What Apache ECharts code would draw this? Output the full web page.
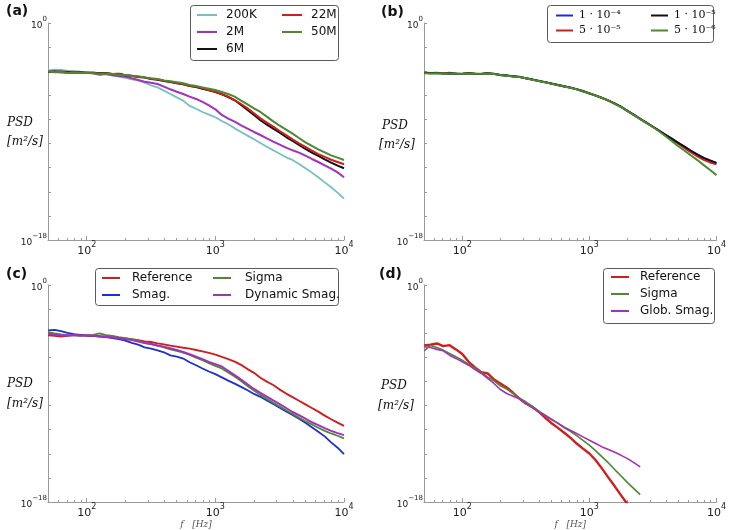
<!DOCTYPE html>
<html><head><meta charset="utf-8">
<script src="https://cdn.jsdelivr.net/npm/echarts@6/dist/echarts.min.js"></script>
<style>html,body{margin:0;padding:0;background:#fff}#c{width:729px;height:530px}</style>
</head><body><div id="c"></div>
<script>
// ---- frequency grids: log10(f / Hz) ----
const logF = [1.70,1.75,1.80,1.85,1.90,1.95,2.00,2.05,2.10,2.15,2.20,2.25,2.30,2.35,2.40,2.45,2.50,2.55,2.60,2.65,2.70,2.75,2.80,2.85,2.90,2.95,3.00,3.05,3.10,3.15,3.20,3.25,3.30,3.35,3.40,3.45,3.50,3.55,3.60,3.65,3.70,3.75,3.80,3.85,3.90,3.95,4.00];
const logF_d = [1.70,1.75,1.80,1.85,1.90,1.95,2.00,2.05,2.10,2.15,2.20,2.25,2.30,2.35,2.40,2.45,2.50,2.55,2.60,2.65,2.70,2.75,2.80,2.85,2.90,2.95,3.00,3.05,3.10,3.15,3.20,3.25,3.30,3.35,3.40];

// ---- PSD values, as log10(PSD) ----
// (a) mesh resolution
const a_200K = [-3.93,-3.87,-3.90,-3.95,-3.98,-4.04,-4.06,-4.09,-4.15,-4.23,-4.34,-4.45,-4.56,-4.67,-4.76,-4.95,-5.17,-5.34,-5.61,-5.89,-6.17,-6.44,-6.88,-7.11,-7.38,-7.60,-7.82,-8.13,-8.40,-8.74,-9.04,-9.34,-9.65,-9.95,-10.26,-10.56,-10.84,-11.14,-11.36,-11.69,-12.05,-12.41,-12.80,-13.22,-13.63,-14.07,-14.57];
const a_2M = [-4.04,-3.98,-4.01,-4.06,-4.06,-4.12,-4.12,-4.17,-4.29,-4.23,-4.34,-4.40,-4.45,-4.59,-4.73,-4.87,-4.95,-5.06,-5.28,-5.50,-5.70,-5.89,-6.11,-6.30,-6.55,-6.83,-7.16,-7.63,-7.93,-8.18,-8.49,-8.76,-9.04,-9.29,-9.57,-9.84,-10.09,-10.34,-10.56,-10.75,-11.00,-11.28,-11.53,-11.81,-12.08,-12.39,-12.80];
const a_6M = [-4.06,-4.04,-4.09,-4.06,-4.12,-4.09,-4.15,-4.12,-4.17,-4.15,-4.23,-4.20,-4.34,-4.37,-4.48,-4.53,-4.64,-4.70,-4.81,-4.89,-5.00,-5.09,-5.23,-5.31,-5.45,-5.58,-5.72,-5.92,-6.14,-6.41,-6.80,-7.22,-7.63,-8.07,-8.43,-8.76,-9.10,-9.46,-9.79,-10.12,-10.45,-10.75,-11.03,-11.31,-11.58,-11.83,-12.05];
const a_22M = [-4.04,-4.06,-4.04,-4.12,-4.09,-4.15,-4.12,-4.15,-4.20,-4.17,-4.26,-4.23,-4.34,-4.40,-4.45,-4.51,-4.62,-4.67,-4.78,-4.87,-4.98,-5.06,-5.20,-5.28,-5.42,-5.56,-5.70,-5.89,-6.11,-6.39,-6.72,-7.08,-7.49,-7.91,-8.27,-8.60,-8.96,-9.29,-9.65,-9.98,-10.28,-10.59,-10.87,-11.11,-11.34,-11.53,-11.72];
const a_50M = [-4.01,-4.09,-4.06,-4.15,-4.12,-4.12,-4.15,-4.17,-4.23,-4.20,-4.23,-4.29,-4.31,-4.40,-4.42,-4.51,-4.59,-4.64,-4.76,-4.84,-4.92,-5.00,-5.14,-5.23,-5.34,-5.45,-5.56,-5.72,-5.89,-6.11,-6.44,-6.75,-7.08,-7.38,-7.77,-8.16,-8.52,-8.85,-9.18,-9.54,-9.90,-10.20,-10.48,-10.73,-10.98,-11.17,-11.36];
// (b) time step
const b_1e4 = [-4.12,-4.16,-4.18,-4.16,-4.21,-4.19,-4.23,-4.18,-4.20,-4.24,-4.18,-4.20,-4.33,-4.34,-4.44,-4.45,-4.60,-4.67,-4.82,-4.89,-5.04,-5.12,-5.27,-5.34,-5.51,-5.64,-5.85,-6.00,-6.23,-6.41,-6.70,-6.94,-7.31,-7.60,-7.97,-8.26,-8.63,-8.93,-9.30,-9.59,-9.96,-10.25,-10.62,-10.89,-11.20,-11.42,-11.63];
const b_5e5 = [-4.10,-4.15,-4.12,-4.18,-4.13,-4.20,-4.22,-4.15,-4.20,-4.23,-4.16,-4.24,-4.30,-4.38,-4.41,-4.49,-4.57,-4.70,-4.79,-4.92,-5.01,-5.15,-5.24,-5.38,-5.48,-5.67,-5.82,-6.03,-6.20,-6.44,-6.67,-6.97,-7.28,-7.63,-7.94,-8.29,-8.60,-8.96,-9.29,-9.66,-10.02,-10.38,-10.74,-11.07,-11.35,-11.57,-11.73];
const b_1e5 = [-4.14,-4.17,-4.14,-4.20,-4.17,-4.22,-4.20,-4.17,-4.22,-4.20,-4.17,-4.22,-4.31,-4.36,-4.42,-4.47,-4.58,-4.69,-4.80,-4.91,-5.02,-5.14,-5.25,-5.36,-5.49,-5.66,-5.83,-6.02,-6.21,-6.43,-6.68,-6.96,-7.29,-7.62,-7.95,-8.28,-8.61,-8.95,-9.28,-9.61,-9.94,-10.27,-10.60,-10.91,-11.18,-11.40,-11.60];
const b_5e6 = [-4.16,-4.18,-4.16,-4.19,-4.19,-4.20,-4.21,-4.19,-4.21,-4.22,-4.19,-4.23,-4.32,-4.37,-4.43,-4.48,-4.59,-4.70,-4.81,-4.92,-5.03,-5.15,-5.26,-5.37,-5.50,-5.67,-5.84,-6.03,-6.22,-6.44,-6.70,-6.98,-7.31,-7.64,-7.97,-8.30,-8.63,-9.00,-9.39,-9.80,-10.22,-10.60,-10.99,-11.37,-11.79,-12.20,-12.62];
// (c) subgrid models
const c_ref = [-4.18,-4.21,-4.27,-4.21,-4.18,-4.16,-4.21,-4.24,-4.24,-4.29,-4.32,-4.38,-4.43,-4.49,-4.57,-4.68,-4.73,-4.84,-4.92,-5.03,-5.11,-5.20,-5.28,-5.39,-5.50,-5.63,-5.77,-5.96,-6.15,-6.35,-6.62,-6.97,-7.28,-7.69,-8.01,-8.29,-8.67,-9.00,-9.30,-9.60,-9.90,-10.20,-10.50,-10.83,-11.13,-11.41,-11.68];
const c_smag = [-3.77,-3.72,-3.83,-3.97,-4.08,-4.13,-4.18,-4.21,-4.27,-4.32,-4.40,-4.49,-4.62,-4.79,-4.95,-5.17,-5.28,-5.42,-5.58,-5.83,-5.94,-6.10,-6.40,-6.65,-6.92,-7.17,-7.39,-7.66,-7.93,-8.18,-8.45,-8.73,-9.03,-9.27,-9.57,-9.87,-10.17,-10.48,-10.78,-11.08,-11.43,-11.79,-12.17,-12.55,-13.05,-13.49,-14.03];
const c_sigma = [-3.91,-4.02,-4.10,-4.16,-4.18,-4.21,-4.18,-4.13,-4.02,-4.16,-4.21,-4.32,-4.40,-4.51,-4.62,-4.79,-4.90,-5.03,-5.17,-5.33,-5.47,-5.61,-5.80,-6.02,-6.24,-6.48,-6.70,-6.92,-7.25,-7.58,-7.96,-8.37,-8.75,-9.11,-9.44,-9.76,-10.07,-10.39,-10.69,-11.00,-11.30,-11.57,-11.84,-12.09,-12.31,-12.50,-12.72];
const c_dyn = [-4.05,-4.13,-4.16,-4.18,-4.13,-4.18,-4.16,-4.21,-4.27,-4.29,-4.35,-4.40,-4.49,-4.57,-4.68,-4.81,-4.90,-5.01,-5.11,-5.25,-5.39,-5.55,-5.74,-5.94,-6.15,-6.37,-6.56,-6.76,-7.11,-7.47,-7.85,-8.23,-8.62,-8.94,-9.25,-9.57,-9.87,-10.20,-10.53,-10.80,-11.08,-11.38,-11.62,-11.87,-12.09,-12.28,-12.45];
// (d) coarse mesh
const d_ref = [-5.01,-4.96,-4.85,-5.07,-4.99,-5.34,-5.73,-6.37,-6.84,-7.23,-7.34,-7.84,-8.17,-8.50,-8.94,-9.42,-9.83,-10.11,-10.50,-10.99,-11.44,-11.83,-12.24,-12.66,-13.15,-13.57,-13.98,-14.54,-15.23,-15.98,-16.70,-17.45,-18.19];
const d_sigma = [-5.46,-5.01,-5.18,-5.40,-5.68,-5.95,-6.23,-6.59,-6.90,-7.26,-7.64,-7.95,-8.36,-8.64,-9.00,-9.39,-9.69,-10.05,-10.44,-10.77,-11.11,-11.46,-11.83,-12.13,-12.49,-12.88,-13.29,-13.76,-14.26,-14.76,-15.31,-15.84,-16.39,-16.89,-17.39];
const d_glob = [-5.12,-5.18,-5.34,-5.46,-5.82,-6.09,-6.37,-6.65,-7.01,-7.34,-7.75,-8.17,-8.67,-9.00,-9.22,-9.44,-9.83,-10.16,-10.52,-10.83,-11.16,-11.44,-11.77,-12.05,-12.32,-12.60,-12.88,-13.15,-13.43,-13.65,-13.88,-14.13,-14.40,-14.73,-15.09];

// ---- axis ticks ----
const xTickExp = [2, 3, 4];
const yTickExp = [-18,-16,-14,-12,-10,-8,-6,-4,-2,0];
const yLabelExp = [-18, 0];
const X_MIN = Math.log10(50), X_MAX = 4;
const minorTicks = [];
[1,2,3].forEach(d => { for (let k = 2; k <= 9; k++) { const v = d + Math.log10(k); if (v > X_MIN + 1e-6 && v < X_MAX) minorTicks.push(v); } });

const COL = { cyan:'#74c1c2', purple:'#a630bd', black:'#111111', red:'#d21d1d', green:'#4b8a2f', blue:'#1e2fd0' };
const AXC = '#9a9a9a';

const grids = [
  {left:48, top:23, width:296, height:217},
  {left:424, top:23, width:294, height:217},
  {left:48, top:285, width:296, height:219},
  {left:424, top:285, width:294, height:217}
];

const supRichX = {
  b:{fontSize:11, color:'#222', fontFamily:'DejaVu Sans', lineHeight:16, verticalAlign:'bottom'},
  s:{fontSize:8, color:'#222', fontFamily:'DejaVu Sans', lineHeight:8, verticalAlign:'top'}
};
const supRichY = {
  b:{fontSize:9, color:'#222', fontFamily:'DejaVu Sans', lineHeight:14, verticalAlign:'bottom'},
  s:{fontSize:7, color:'#222', fontFamily:'DejaVu Sans', lineHeight:7, verticalAlign:'top'}
};
const fmtExp = v => '{b|10}{s|' + String(Math.round(v)).replace('-', '\u2212') + '}';

const xAxes = [], yAxes = [];
grids.forEach((g, gi) => {
  const showName = gi >= 2;
  xAxes.push({
    type:'value', gridIndex:gi, min:X_MIN, max:X_MAX, position:'bottom',
    axisLine:{show:true, onZero:false, lineStyle:{color:AXC, width:1}},
    axisTick:{show:true, inside:true, length:4, customValues:xTickExp, lineStyle:{color:AXC}},
    axisLabel:{show:true, customValues:xTickExp, formatter:fmtExp, margin:1, rich:supRichX},
    splitLine:{show:false},
    name: showName ? 'f   [Hz]' : '', nameLocation:'middle', nameGap:15,
    nameTextStyle:{fontFamily:'DejaVu Serif', fontStyle:'italic', fontSize:9, color:'#555'}
  });
  xAxes.push({
    type:'value', gridIndex:gi, min:X_MIN, max:X_MAX, position:'bottom',
    axisLine:{show:false, onZero:false},
    axisTick:{show:true, inside:true, length:2, customValues:minorTicks, lineStyle:{color:AXC}},
    axisLabel:{show:false, customValues:minorTicks},
    splitLine:{show:false}
  });
  yAxes.push({
    type:'value', gridIndex:gi, min:-18, max:0,
    axisLine:{show:true, onZero:false, lineStyle:{color:AXC, width:1}},
    axisTick:{show:true, inside:true, length:3, customValues:yTickExp, lineStyle:{color:AXC}},
    axisLabel:{show:true, customValues:yLabelExp, formatter:fmtExp, margin:1, rich:supRichY},
    splitLine:{show:false}
  });
});

function line(xs, ys, name, color, gi, width) {
  return {
    type:'line', name, xAxisIndex:gi*2, yAxisIndex:gi,
    data: ys.map((y, i) => [xs[i], y]),
    showSymbol:false, symbol:'none', color, itemStyle:{color},
    lineStyle:{color, width: width || 1.6}, animation:false, silent:true, clip:true
  };
}

const series = [
  line(logF, a_200K, '200K', COL.cyan, 0, 1.8),
  line(logF, a_2M, '2M', COL.purple, 0, 2.0),
  line(logF, a_6M, '6M', COL.black, 0, 2.0),
  line(logF, a_22M, '22M', COL.red, 0, 2.0),
  line(logF, a_50M, '50M', COL.green, 0, 2.0),
  line(logF, b_1e4, '1 \u00b7 10\u207b\u2074', COL.blue, 1, 1.9),
  line(logF, b_5e5, '5 \u00b7 10\u207b\u2075', COL.red, 1, 1.9),
  line(logF, b_1e5, '1 \u00b7 10\u207b\u2075', COL.black, 1, 1.9),
  line(logF, b_5e6, '5 \u00b7 10\u207b\u2076', COL.green, 1, 2.0),
  line(logF, c_ref, 'Reference', COL.red, 2, 1.9),
  line(logF, c_smag, 'Smag.', COL.blue, 2, 1.8),
  line(logF, c_sigma, 'Sigma', COL.green, 2, 1.8),
  line(logF, c_dyn, 'Dynamic Smag.', COL.purple, 2, 2.0),
  line(logF_d, d_ref, 'Reference', COL.red, 3, 2.4),
  line(logF_d, d_sigma, 'Sigma', COL.green, 3, 1.6),
  line(logF_d, d_glob, 'Glob. Smag.', COL.purple, 3, 1.6)
];

function legendCol(names, left, top, o) {
  return {
    data:names, left, top, orient:'vertical', selectedMode:false,
    icon:'rect', itemWidth:o.w, itemHeight:2, itemGap:o.gap, padding:0, z:10,
    textStyle:{fontFamily:o.font || 'DejaVu Sans', fontSize:o.fs, color:'#111', lineHeight:o.lh, padding:[0,0,0,o.tp]}
  };
}
const legends = [
  legendCol(['200K','2M','6M'], 197, 8, {w:20, gap:3, fs:12, lh:14, tp:4}),
  legendCol(['22M','50M'], 282, 8, {w:20, gap:3, fs:12, lh:14, tp:4}),
  legendCol(['1 \u00b7 10\u207b\u2074','5 \u00b7 10\u207b\u2075'], 556, 9, {w:17, gap:2, fs:11, lh:13, tp:1, font:'DejaVu Serif'}),
  legendCol(['1 \u00b7 10\u207b\u2075','5 \u00b7 10\u207b\u2076'], 651, 9, {w:17, gap:2, fs:11, lh:13, tp:1, font:'DejaVu Serif'}),
  legendCol(['Reference','Smag.'], 102, 271, {w:18, gap:3, fs:12, lh:14, tp:7}),
  legendCol(['Sigma','Dynamic Smag.'], 213, 271, {w:18, gap:3, fs:12, lh:14, tp:9}),
  legendCol(['Reference','Sigma','Glob. Smag.'], 611, 270, {w:18, gap:3, fs:12, lh:14, tp:6})
];

const box = (x, y, w, h) => ({type:'rect', x, y, z:5, shape:{x:0.5, y:0.5, width:w, height:h, r:3}, style:{fill:'#fff', stroke:'#5a5a5a', lineWidth:1}});
const txt = (x, y, text, font, align) => ({type:'text', x, y, z:6, style:{text, font, fill:'#111', align: align || 'center', verticalAlign:'middle'}});
const psdFont = 'italic 12px "DejaVu Serif"';
const graphic = [
  box(190, 5, 148, 55), box(547, 5, 166, 37), box(95, 268, 243, 37), box(603, 268, 111, 55),
  txt(6, 11, '(a)', 'bold 14px "DejaVu Sans"', 'left'),
  txt(381, 12, '(b)', 'bold 14px "DejaVu Sans"', 'left'),
  txt(6, 274, '(c)', 'bold 14px "DejaVu Sans"', 'left'),
  txt(379, 274, '(d)', 'bold 14px "DejaVu Sans"', 'left'),
  txt(20, 123, 'PSD', psdFont), txt(25, 142, '[m\u00b2/s]', psdFont),
  txt(395, 126, 'PSD', psdFont), txt(397, 145, '[m\u00b2/s]', psdFont),
  txt(20, 384, 'PSD', psdFont), txt(25, 404, '[m\u00b2/s]', psdFont),
  txt(394, 386, 'PSD', psdFont), txt(396, 406, '[m\u00b2/s]', psdFont)
];

const chart = echarts.init(document.getElementById('c'), null, {renderer:'canvas'});
chart.setOption({
  animation:false, backgroundColor:'#fff',
  textStyle:{fontFamily:'DejaVu Sans'},
  grid:grids, xAxis:xAxes, yAxis:yAxes, series, legend:legends, graphic
});
</script></body></html>
